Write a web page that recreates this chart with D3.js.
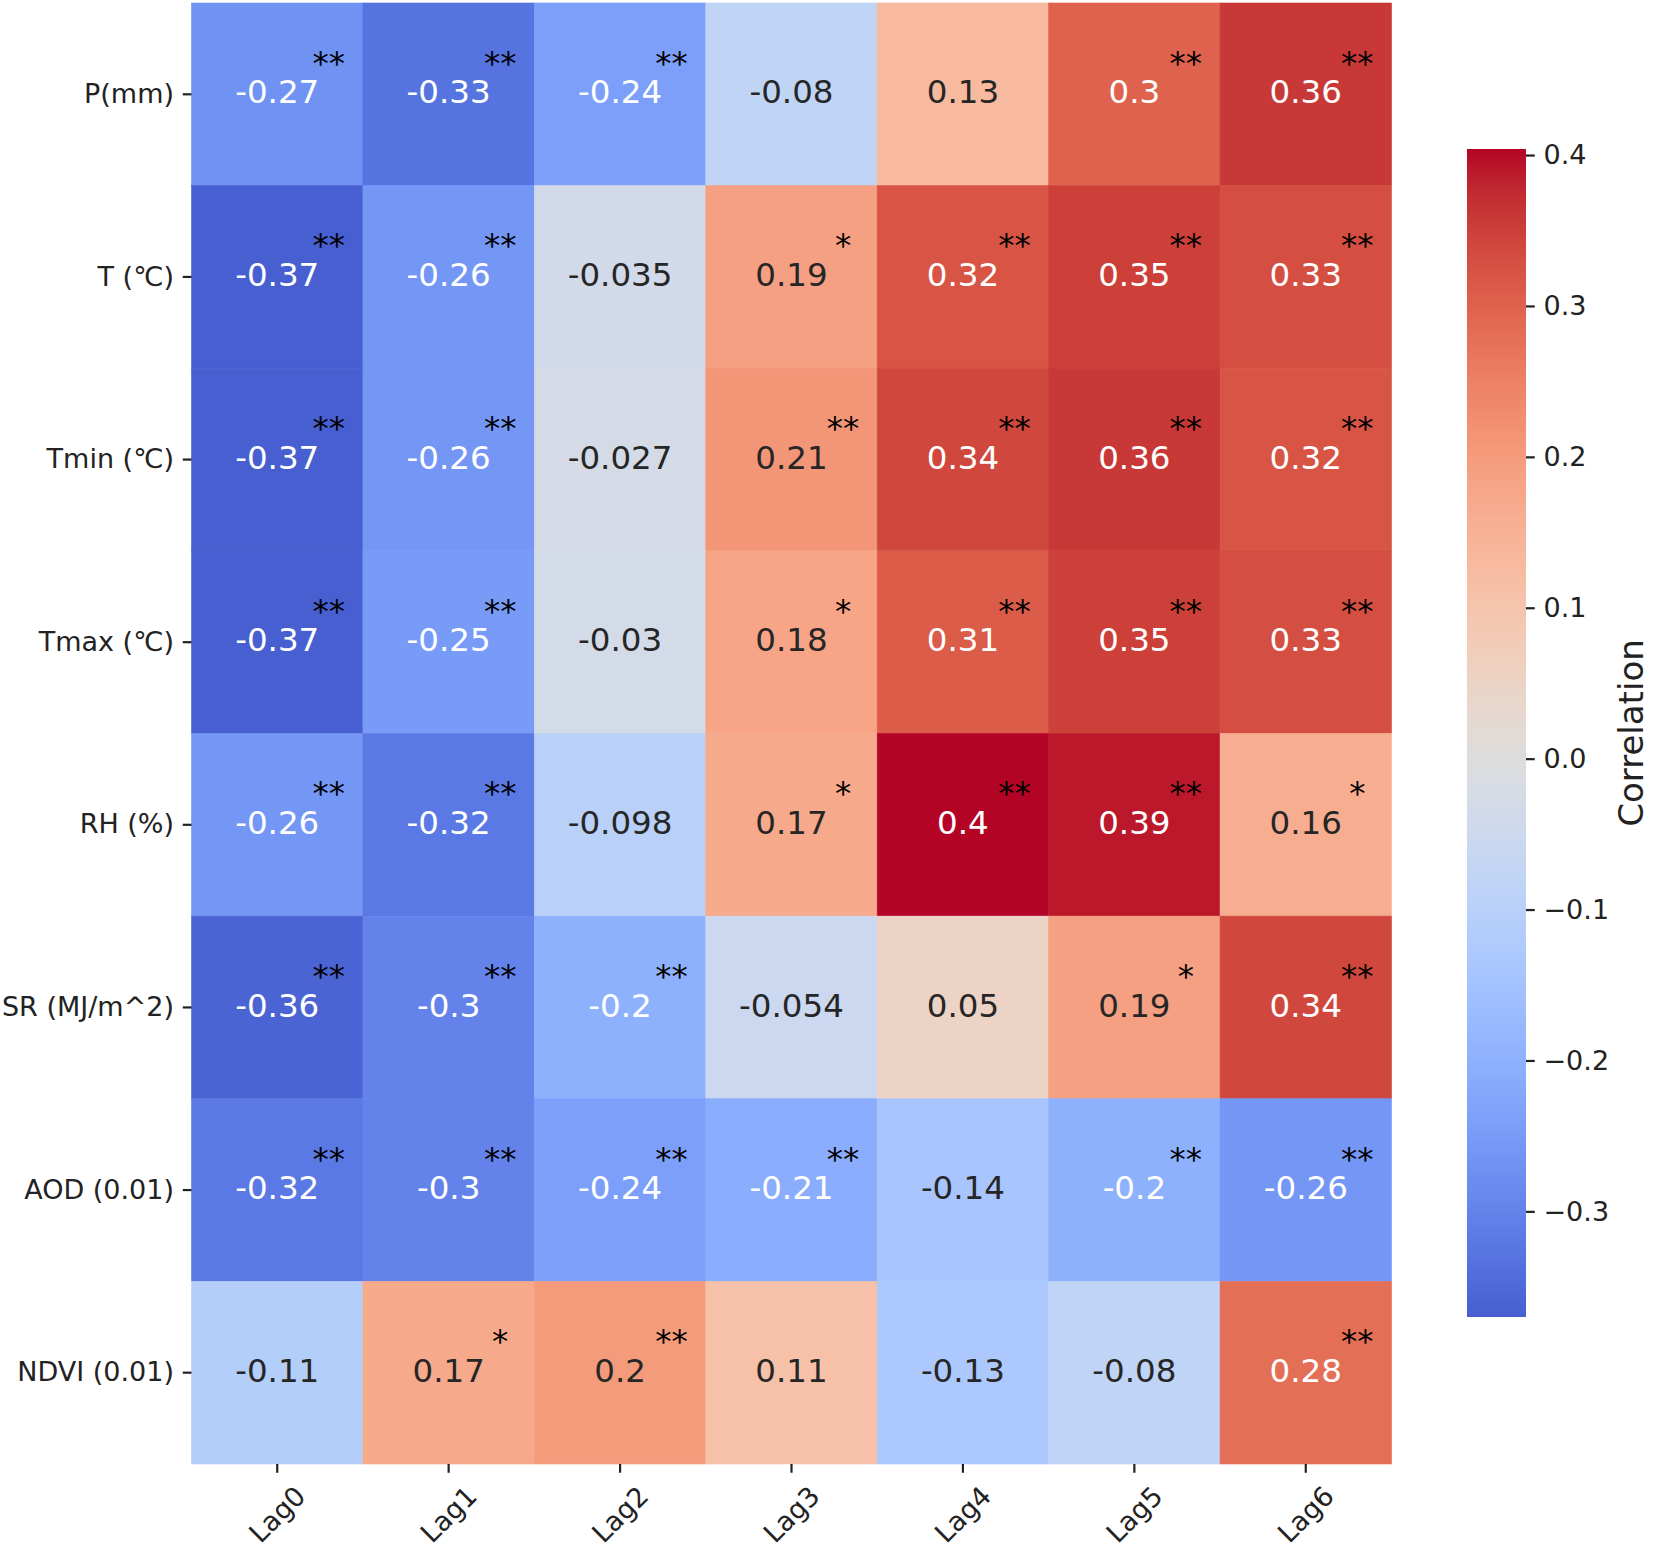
<!DOCTYPE html>
<html>
<head>
<meta charset="utf-8">
<script src="https://cdn.jsdelivr.net/npm/d3@7"></script>
<style>
	body { margin: 0; background: #fff; }
	text { font-family: "DejaVu Sans", sans-serif; }
</style>
</head>
<body>
<div id="chart"></div>
<script>
// lag columns and variable rows
var lags = ["Lag0", "Lag1", "Lag2", "Lag3", "Lag4", "Lag5", "Lag6"];
var variables = ["P(mm)", "T (\u2103)", "Tmin (\u2103)", "Tmax (\u2103)", "RH (%)", "SR (MJ/m^2)", "AOD (0.01)", "NDVI (0.01)"];

// correlation per row (same order as variables)
var corr = [
	[-0.27, -0.33, -0.24, -0.08, 0.13, 0.3, 0.36],
	[-0.37, -0.26, -0.035, 0.19, 0.32, 0.35, 0.33],
	[-0.37, -0.26, -0.027, 0.21, 0.34, 0.36, 0.32],
	[-0.37, -0.25, -0.03, 0.18, 0.31, 0.35, 0.33],
	[-0.26, -0.32, -0.098, 0.17, 0.404, 0.39, 0.16],
	[-0.36, -0.3, -0.2, -0.054, 0.05, 0.19, 0.34],
	[-0.32, -0.3, -0.24, -0.21, -0.14, -0.2, -0.26],
	[-0.11, 0.17, 0.2, 0.11, -0.13, -0.08, 0.28]
];

// significance marks
var stars = [
	["**", "**", "**", "", "", "**", "**"],
	["**", "**", "", "*", "**", "**", "**"],
	["**", "**", "", "**", "**", "**", "**"],
	["**", "**", "", "*", "**", "**", "**"],
	["**", "**", "", "*", "**", "**", "*"],
	["**", "**", "**", "", "", "*", "**"],
	["**", "**", "**", "**", "", "**", "**"],
	["", "*", "**", "", "", "", "**"]
];

var cbarTicks = [-0.3, -0.2, -0.1, 0.0, 0.1, 0.2, 0.3, 0.4];

// matplotlib coolwarm (Moreland), 33 samples
var coolwarm = [
	[59,76,192],[68,90,204],[77,104,215],[87,117,225],[98,130,234],[108,142,241],
	[119,154,247],[130,165,251],[141,176,254],[152,185,255],[163,194,255],[174,201,253],
	[184,208,249],[194,213,244],[204,217,238],[213,219,230],[221,221,221],[229,216,209],
	[236,211,197],[241,204,184],[245,196,172],[247,187,160],[247,177,148],[247,166,137],
	[244,154,123],[241,141,111],[236,127,99],[229,112,88],[222,96,77],[213,80,66],
	[203,62,56],[192,40,47],[180,4,38]
].map(function(c) { return d3.rgb(c[0], c[1], c[2]).formatHex(); });

var width = 1653,
	height = 1549,
	grid = { left: 191.5, right: 1391.5, top: 3, bottom: 1464 },
	cbar = { left: 1467, right: 1526, top: 149, bottom: 1317 },
	tickLen = 8.75,
	tickPad = 8.75;

var interp = d3.piecewise(d3.interpolateRgb, coolwarm);
var all = d3.merge(corr);
var vmin = d3.min(all), vmax = d3.max(all);
var vrange = Math.max(vmax, -vmin);

// map centred on zero for the fills
var tScale = d3.scaleLinear().domain([-vrange, vrange]).range([0, 1]).clamp(true);
var color = function(v) { return interp(tScale(v)); };

// annotation colour follows the uncentred map (min..max)
var tLabel = d3.scaleLinear().domain([vmin, vmax]).range([0, 1]).clamp(true);

function luminance(c) {
	var rgb = d3.rgb(c);
	var lin = [rgb.r, rgb.g, rgb.b].map(function(v) {
		v = v / 255;
		return v <= 0.03928 ? v / 12.92 : Math.pow((v + 0.055) / 1.055, 2.4);
	});
	return 0.2126 * lin[0] + 0.7152 * lin[1] + 0.0722 * lin[2];
}

var fmt = d3.formatLocale({ decimal: ".", thousands: ",", grouping: [3], currency: ["", ""], minus: "-" }).format(".2~g");

var xScale = d3.scaleBand().domain(lags).range([grid.left, grid.right]);
var yScale = d3.scaleBand().domain(variables).range([grid.top, grid.bottom]);

var svg = d3.select("#chart").append("svg")
	.attr("width", width)
	.attr("height", height);

svg.append("rect").attr("width", width).attr("height", height).attr("fill", "#fff");

var cells = [];
corr.forEach(function(row, i) {
	row.forEach(function(v, j) {
		cells.push({ row: variables[i], col: lags[j], value: v, star: stars[i][j] });
	});
});

var g = svg.append("g").attr("class", "cells");

g.selectAll("rect").data(cells).enter().append("rect")
	.attr("x", function(d) { return xScale(d.col); })
	.attr("y", function(d) { return yScale(d.row); })
	.attr("width", xScale.bandwidth())
	.attr("height", yScale.bandwidth())
	.attr("fill", function(d) { return color(d.value); })
	.attr("stroke", function(d) { return color(d.value); })
	.attr("stroke-width", 0.6);

var numSize = 32.5;

g.selectAll("text.num").data(cells).enter().append("text")
	.attr("class", "num")
	.attr("x", function(d) { return xScale(d.col) + xScale.bandwidth() / 2; })
	.attr("y", function(d) { return yScale(d.row) + yScale.bandwidth() / 2; })
	.attr("dy", "0.28em")
	.attr("text-anchor", "middle")
	.style("font-size", numSize + "px")
	.attr("fill", function(d) { return luminance(interp(tLabel(d.value))) > 0.408 ? "#262626" : "#ffffff"; })
	.text(function(d) { return fmt(d.value); });

g.selectAll("text.star").data(cells.filter(function(d) { return d.star; })).enter().append("text")
	.attr("class", "star")
	.attr("x", function(d) { return xScale(d.col) + xScale.bandwidth() / 2 + 51.5; })
	.attr("y", function(d) { return yScale(d.row) + yScale.bandwidth() / 2 - 20.5; })
	.attr("text-anchor", "middle")
	.style("font-size", numSize + "px")
	.attr("fill", "#000")
	.text(function(d) { return d.star; });

// axes
var yAxis = d3.axisLeft(yScale).tickSize(tickLen).tickPadding(tickPad);
var xAxis = d3.axisBottom(xScale).tickSize(tickLen).tickPadding(tickPad);

var yG = svg.append("g")
	.attr("class", "axis y")
	.attr("transform", "translate(" + grid.left + ",0)")
	.call(yAxis);

var xG = svg.append("g")
	.attr("class", "axis x")
	.attr("transform", "translate(0," + grid.bottom + ")")
	.call(xAxis);

svg.selectAll(".axis .domain").remove();
svg.selectAll(".axis line").attr("stroke", "#222").attr("stroke-width", 2.2);
svg.selectAll(".axis text")
	.attr("font-family", null)
	.style("font-size", "27px")
	.attr("fill", "#222");

// rotated lag labels, bbox top just under the tick
xG.selectAll("text").each(function() {
	var t = d3.select(this);
	var w = this.getComputedTextLength();
	var yc = tickLen + tickPad + (w + 27) / (2 * Math.SQRT2);
	t.attr("x", 0).attr("y", yc).attr("dy", "0.35em")
		.attr("text-anchor", "middle")
		.attr("transform", "rotate(-45,0," + yc + ")");
});

// colorbar: shows min..max of the centred map
var cScale = d3.scaleLinear().domain([vmin, vmax]).range([cbar.bottom, cbar.top]);

var grad = svg.append("defs").append("linearGradient")
	.attr("id", "cgrad")
	.attr("x1", 0).attr("y1", 1).attr("x2", 0).attr("y2", 0);

d3.range(0, 1.0001, 0.02).forEach(function(t) {
	grad.append("stop").attr("offset", t).attr("stop-color", color(vmin + t * (vmax - vmin)));
});

svg.append("rect")
	.attr("x", cbar.left)
	.attr("y", cbar.top)
	.attr("width", cbar.right - cbar.left)
	.attr("height", cbar.bottom - cbar.top)
	.attr("fill", "url(#cgrad)");

var cG = svg.append("g")
	.attr("class", "axis c")
	.attr("transform", "translate(" + cbar.right + ",0)")
	.call(d3.axisRight(cScale).tickValues(cbarTicks).tickFormat(d3.format(".1f")).tickSize(tickLen).tickPadding(tickPad));

cG.select(".domain").remove();
cG.selectAll("line").attr("stroke", "#222").attr("stroke-width", 2.2);
cG.selectAll("text")
	.attr("font-family", null)
	.style("font-size", "27px")
	.attr("fill", "#222");

svg.append("text")
	.attr("transform", "translate(1631," + ((cbar.top + cbar.bottom) / 2) + ") rotate(-90)")
	.attr("text-anchor", "middle")
	.attr("dy", "0.35em")
	.style("font-size", "34px")
	.attr("fill", "#222")
	.text("Correlation");
</script>
</body>
</html>
